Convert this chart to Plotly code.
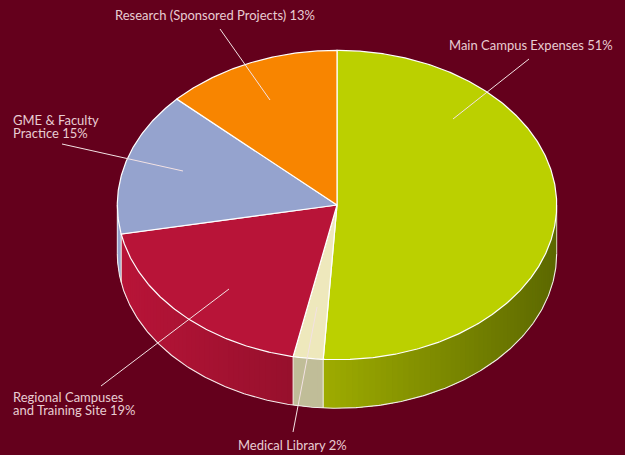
import math
import plotly.graph_objects as go

# Data (shares of the pie, clockwise from 12 o'clock)
categories = ["Main Campus Expenses", "Medical Library", "Regional Campuses and Training Site",
              "GME & Faculty Practice", "Research (Sponsored Projects)"]
shares = [51.0, 2.2, 18.8, 15.0, 13.0]
top_colors = ["#bbd000", "#eee8bc", "#b81438", "#95a3ce", "#f88500"]
# side shading: colour at the left-most and right-most x of each slice's rim
side_colors = [((0x9e, 0xac, 0x00), (0x5c, 0x68, 0x00)),
               ((0xc0, 0xbd, 0x98), (0xc0, 0xbd, 0x98)),
               ((0xb8, 0x14, 0x38), (0x96, 0x10, 0x2c)),
               ((0x95, 0xa3, 0xce), (0x95, 0xa3, 0xce)),
               ((0xf8, 0x85, 0x00), (0xf8, 0x85, 0x00))]
label_lines = ["Main Campus Expenses 51%", "Medical Library 2%",
               "Regional Campuses", "and Training Site 19%",
               "GME & Faculty", "Practice 15%", "Research (Sponsored Projects) 13%"]
label_pos = [(447, 45), (236, 445), (11, 397), (11, 410), (11, 120), (11, 133), (113, 15)]
leaders = [((529, 59), (453, 119)), ((293, 432), (317, 307)), ((101, 386), (229, 289)),
           ((62, 144), (183, 171)), ((220, 29), (270, 100))]

BG = "#64001c"
TEXT = "#e8ccd2"
CX, CY, RX, RY, DEPTH = 337.0, 205.0, 219.7, 154.7, 48.5


def pt(deg, dy=0.0):
    a = math.radians(deg)
    return CX + RX * math.sin(a), CY - RY * math.cos(a) + dy


def arc(a0, a1, dy=0.0):
    n = max(2, int(abs(a1 - a0) * 2) + 1)
    return [pt(a0 + (a1 - a0) * i / (n - 1), dy) for i in range(n)]


def poly(points, fill, line=None, width=0.0):
    xs = [p[0] for p in points]
    ys = [p[1] for p in points]
    return go.Scatter(x=xs, y=ys, mode="lines", fill="toself", fillcolor=fill,
                      line=dict(color=line or fill, width=width), hoverinfo="skip",
                      showlegend=False)


def stroke(points, color="#ffffff", width=1.2):
    return go.Scatter(x=[p[0] for p in points], y=[p[1] for p in points], mode="lines",
                      line=dict(color=color, width=width), hoverinfo="skip", showlegend=False)


total = sum(shares)
edges = [0.0]
for s in shares:
    edges.append(edges[-1] + s / total * 360)

fig = go.Figure()

# rim: only the front half (90..270 degrees) is visible. Each band runs to the end of
# its slice and the next band paints over it, so no seams show between bands.
for i, (a0, a1) in enumerate(zip(edges[:-1], edges[1:])):
    lo, hi = max(a0, 90.0), min(a1, 270.0)
    if hi <= lo:
        continue
    x_hi, x_lo = pt(lo)[0], pt(hi)[0]
    (cl, cr) = side_colors[i]
    steps = max(1, int((hi - lo) / 1.5))
    for k in range(steps):
        s0 = lo + (hi - lo) * k / steps
        s1 = lo + (hi - lo) * (k + 1) / steps
        xm = (pt(s0)[0] + pt(s1)[0]) / 2
        t = (xm - x_lo) / max(x_hi - x_lo, 1e-6)
        rgb = tuple(int(round(cl[c] + (cr[c] - cl[c]) * t)) for c in range(3))
        col = "rgb(%d,%d,%d)" % rgb
        fig.add_trace(poly(arc(s0, hi) + arc(hi, s0, DEPTH), col))

# rim outlines
fig.add_trace(stroke(arc(90, 270, DEPTH), "#f4ecec", 1.1))
fig.add_trace(stroke([pt(90), pt(90, DEPTH)], "#d8d8c0", 1.0))
fig.add_trace(stroke([pt(270), pt(270, DEPTH)], "#e6e6ee", 1.0))
for e in edges[1:-1]:
    if 90 < e < 270:
        fig.add_trace(stroke([pt(e), pt(e, DEPTH)], "#f6f2e6", 1.0))

# top face
for i, (a0, a1) in enumerate(zip(edges[:-1], edges[1:])):
    fig.add_trace(poly([(CX, CY)] + arc(a0, a1) + [(CX, CY)], top_colors[i], "#ffffff", 1.2))

# leader lines
for a, b in leaders:
    fig.add_trace(stroke([a, b], "#f3e2e4", 1.0))

for txt, (x, y) in zip(label_lines, label_pos):
    fig.add_annotation(x=x, y=y, text=txt, showarrow=False, xanchor="left", yanchor="middle",
                       align="left", xref="x", yref="y",
                       font=dict(family="Lato", size=13, color=TEXT))

fig.update_layout(
    width=625, height=455, margin=dict(l=0, r=0, t=0, b=0),
    paper_bgcolor=BG, plot_bgcolor=BG, showlegend=False,
    xaxis=dict(range=[0, 625], visible=False, fixedrange=True),
    yaxis=dict(range=[455, 0], visible=False, fixedrange=True),
)
fig.write_html("out.html", config={"displayModeBar": False},
               post_script="document.body.style.margin='0';document.body.style.overflow='hidden';document.body.style.background='%s';" % BG)
